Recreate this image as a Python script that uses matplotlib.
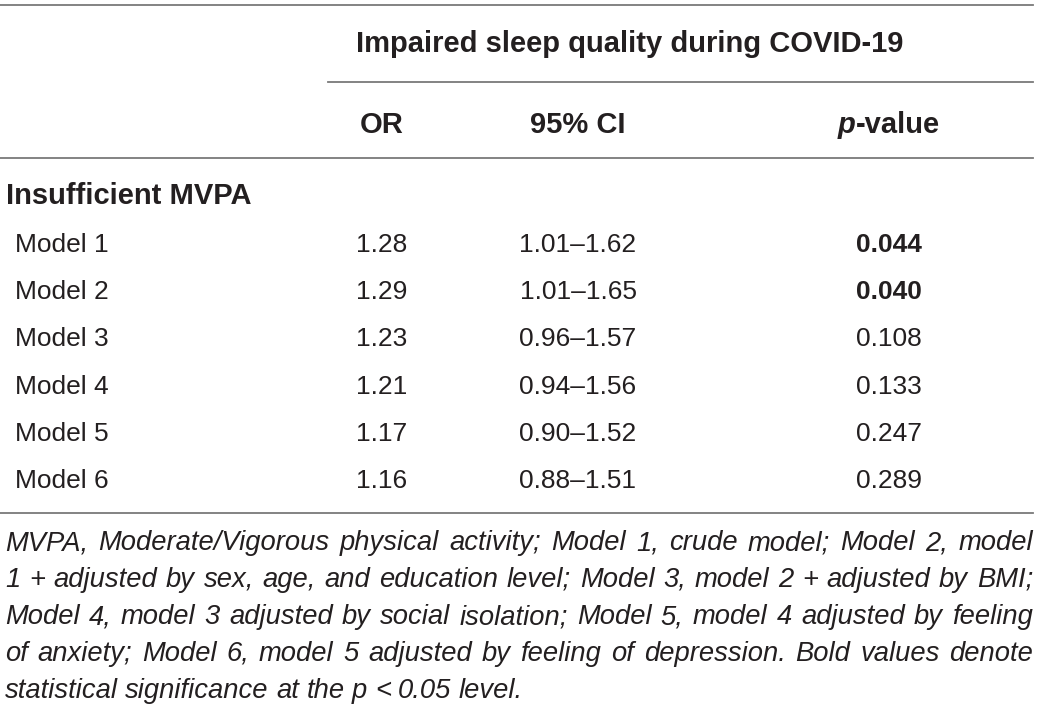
import matplotlib
matplotlib.use('Agg')
import matplotlib.pyplot as plt

plt.rcParams['font.family'] = ['Liberation Sans', 'DejaVu Sans']

# table contents
group_label = 'Insufficient MVPA'
models = ['Model 1', 'Model 2', 'Model 3', 'Model 4', 'Model 5', 'Model 6']
odds_ratio = ['1.28', '1.29', '1.23', '1.21', '1.17', '1.16']
ci_low = ['1.01', '1.01', '0.96', '0.94', '0.90', '0.88']
ci_high = ['1.62', '1.65', '1.57', '1.56', '1.52', '1.51']
p_values = [0.044, 0.040, 0.108, 0.133, 0.247, 0.289]
header_span = 'Impaired sleep quality during COVID-19'
col_headers = ['OR', '95% CI', '-value']
caption_lines = [
    'MVPA, Moderate/Vigorous physical activity; Model 1, crude model; Model 2, model',
    '1 + adjusted by sex, age, and education level; Model 3, model 2 + adjusted by BMI;',
    'Model 4, model 3 adjusted by social isolation; Model 5, model 4 adjusted by feeling',
    'of anxiety; Model 6, model 5 adjusted by feeling of depression. Bold values denote',
    'statistical significance at the p < 0.05 level.',
]

W, H = 1039, 711
fig = plt.figure(figsize=(W / 100, H / 100), dpi=100)
ax = fig.add_axes([0, 0, 1, 1])
ax.set_xlim(0, W)
ax.set_ylim(H, 0)
ax.axis('off')

txt = '#231f20'
rule = '#7a7a7a'
fs = 19
fs_b = 21

# column centres and baselines (pixels)
x_or, x_ci, x_p = 382, 578, 889
y_rows = [252, 299, 346, 394, 441, 488]

# horizontal rules
ax.plot([0, 1033], [5, 5], color=rule, lw=1.3)
ax.plot([328, 1033], [82, 82], color=rule, lw=1.3)
ax.plot([0, 1033], [158, 158], color=rule, lw=1.3)
ax.plot([0, 1033], [513, 513], color=rule, lw=1.3)

ax.text(630, 52, header_span, fontsize=fs_b, fontweight='bold', color=txt, ha='center', va='baseline')
ax.text(x_or, 133, col_headers[0], fontsize=fs_b, fontweight='bold', color=txt, ha='center', va='baseline')
ax.text(x_ci, 133, col_headers[1], fontsize=fs_b, fontweight='bold', color=txt, ha='center', va='baseline')

fig.canvas.draw()
renderer = fig.canvas.get_renderer()


def px_width(t):
    return t.get_window_extent(renderer=renderer).width


# p-value header: italic p + bold "-value", centred together
tp = ax.text(0, 133, 'p', fontsize=fs_b, fontweight='bold', fontstyle='italic', color=txt, va='baseline')
tv = ax.text(0, 133, col_headers[2], fontsize=fs_b, fontweight='bold', color=txt, va='baseline')
wp, wv = px_width(tp), px_width(tv)
tp.set_x(x_p - (wp + wv) / 2)
tv.set_x(x_p - (wp + wv) / 2 + wp)

ax.text(6, 204, group_label, fontsize=fs_b, fontweight='bold', color=txt, ha='left', va='baseline')

for i, m in enumerate(models):
    y = y_rows[i]
    ax.text(15, y, m, fontsize=fs, color=txt, ha='left', va='baseline')
    ax.text(x_or, y, odds_ratio[i], fontsize=fs, color=txt, ha='center', va='baseline')
    ax.text(x_ci, y, ci_low[i] + '\u2013' + ci_high[i], fontsize=fs, color=txt, ha='center', va='baseline')
    bold = 'bold' if p_values[i] < 0.05 else 'normal'
    ax.text(x_p, y, '%.3f' % p_values[i], fontsize=fs, fontweight=bold, color=txt, ha='center', va='baseline')

# caption: pick a size so the longest line nearly fills the width, then justify
x0, x1 = 5, 1033
y_cap = [550, 587, 624, 661, 698]
probe = ax.text(0, 0, caption_lines[0], fontsize=17, fontstyle='italic')
natural = 0
for l in caption_lines:
    probe.set_text(l)
    natural = max(natural, px_width(probe))
probe.remove()
fs_cap = 17 * (x1 - x0) * 0.985 / natural

for k, line in enumerate(caption_lines):
    words = line.split(' ')
    items = [ax.text(0, y_cap[k], w, fontsize=fs_cap, fontstyle='italic', color=txt,
                     ha='left', va='baseline') for w in words]
    widths = [px_width(t) for t in items]
    if k == len(caption_lines) - 1:
        gap = fs_cap * 1.389 * 0.27
    else:
        gap = (x1 - x0 - sum(widths)) / (len(words) - 1)
    x = x0
    for t, w in zip(items, widths):
        t.set_x(x)
        x += w + gap

fig.savefig('out.png', dpi=100)
